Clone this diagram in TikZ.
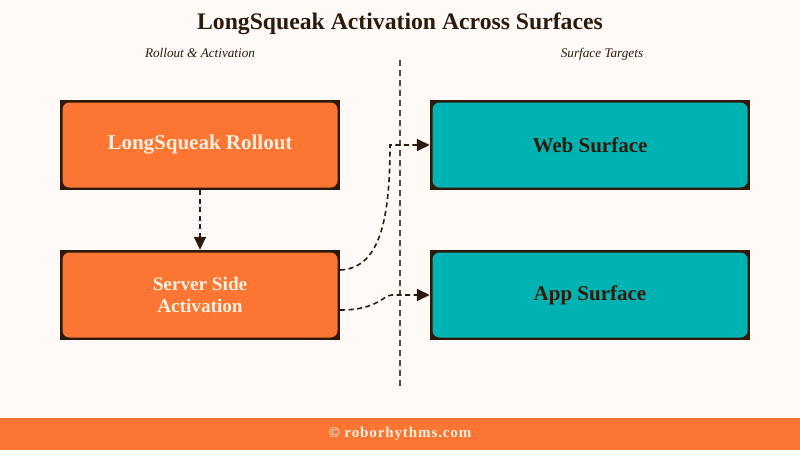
\documentclass[tikz,border=0pt]{standalone}
\usepackage{fontspec}
\setmainfont{Liberation Serif}
\usepackage{xcolor}
\usetikzlibrary{arrows.meta,positioning}
\definecolor{PageBg}{HTML}{FFFAF8}
\definecolor{RollOrange}{HTML}{FD7533}
\definecolor{SurfTeal}{HTML}{00B3B3}
\definecolor{DarkBrown}{HTML}{2E1A0B}
\definecolor{CreamText}{HTML}{FFF1DE}
\definecolor{DivGray}{HTML}{4A4A4A}

\begin{document}
\begin{tikzpicture}[x=1pt,y=-1pt,
  card/.style={rectangle,fill=DarkBrown,minimum width=280pt,minimum height=90pt,
    align=center,font=\bfseries\fontsize{21}{24}\selectfont,
    path picture={\fill[#1,rounded corners=7pt]
      ([shift={(2.5pt,-2.5pt)}]path picture bounding box.north west) rectangle
      ([shift={(-2.5pt,2.5pt)}]path picture bounding box.south east);}},
  rollbox/.style={card=RollOrange,text=CreamText},
  surfbox/.style={card=SurfTeal,minimum width=320pt,text=DarkBrown},
  flow/.style={-{Triangle[length=13pt,width=12pt]},line width=1.6pt,DarkBrown,
    dash pattern=on 5pt off 3.5pt},
  heading/.style={anchor=base,font=\itshape\fontsize{13.2}{15}\selectfont,text=DarkBrown}
]
\fill[PageBg] (0,0) rectangle (800,450);
\fill[RollOrange] (0,418) rectangle (800,450);

% titles
\node[anchor=base,font=\bfseries\fontsize{23.7}{26}\selectfont,text=DarkBrown] (title) at (400,29) {LongSqueak Activation Across Surfaces};
\node[heading] (lefthead) at (200,57) {Rollout \& Activation};
\node[heading] (righthead) at (602,57) {Surface Targets};

% divider
\draw[DivGray,line width=1.5pt,dash pattern=on 6pt off 4pt] (400,60) -- (400,386);

% boxes
\node[rollbox] (rollout) at (200,145) {LongSqueak Rollout};
\node[rollbox,font=\bfseries\fontsize{19.2}{22}\selectfont] (server) at (200,295) {Server Side\\Activation};
\node[surfbox] (web) at (590,145) {Web Surface};
\node[surfbox] (app) at (590,295) {App Surface};

% connectors
\draw[flow] (rollout.south) -- (server.north);
\draw[flow] ([yshift=25pt]server.east) .. controls (378,268) and (390,225) .. (390,145) -- (web.west);
\draw[flow] ([yshift=-15pt]server.east) .. controls (378,310) and (383,295) .. (392,295) -- (app.west);

% footer
\node[font=\bfseries\fontsize{15}{18}\selectfont\addfontfeature{LetterSpace=6},text=CreamText] (footer) at (400,434) {\char"00A9{} roborhythms.com};
\end{tikzpicture}
\end{document}
